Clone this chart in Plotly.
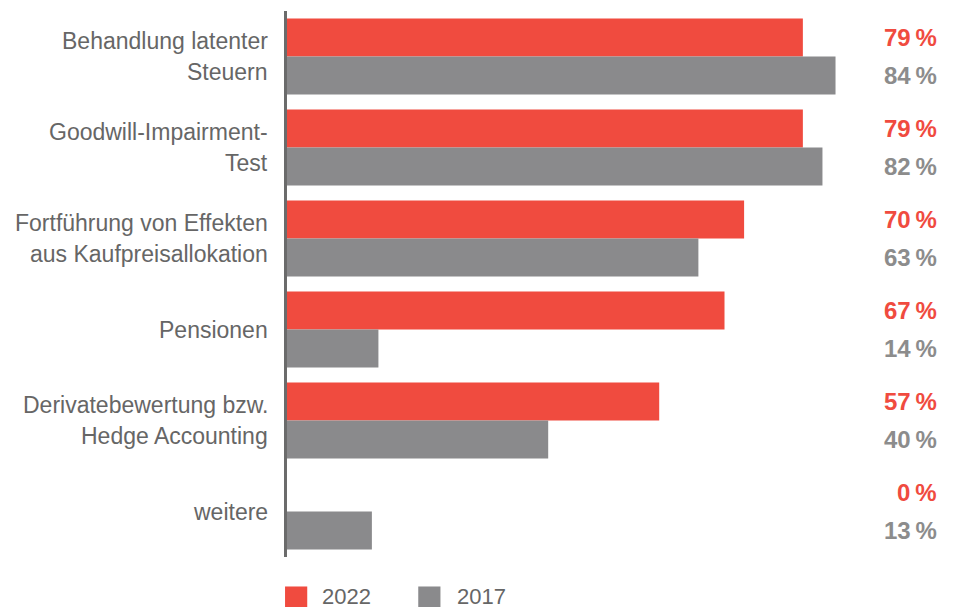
import plotly.graph_objects as go

# Survey shares per topic, 2022 vs. 2017
categories = [
    "Behandlung latenter<br>Steuern",
    "Goodwill-Impairment-<br>Test",
    "Fortführung von Effekten<br>aus Kaufpreisallokation",
    "Pensionen",
    "Derivatebewertung bzw.<br>Hedge Accounting",
    "weitere",
]
values_2022 = [79, 79, 70, 67, 57, 0]
values_2017 = [84, 82, 63, 14, 40, 13]
series_names = ["2022", "2017"]

RED = "#F04B3F"
GRAY = "#8A8A8C"
GRAY_TEXT = "#8C8C8C"
LABEL = "#666666"
FONT = "Liberation Sans, Arial, sans-serif"

fig = go.Figure()
fig.add_trace(go.Bar(y=categories, x=values_2022, orientation="h",
                     name=series_names[0], marker=dict(color=RED, line_width=0)))
fig.add_trace(go.Bar(y=categories, x=values_2017, orientation="h",
                     name=series_names[1], marker=dict(color=GRAY, line_width=0)))

annotations = []
# value column on the right
for cat, v22, v17 in zip(categories, values_2022, values_2017):
    for val, col, shift in ((v22, RED, 19), (v17, GRAY_TEXT, -19)):
        annotations.append(dict(
            x=1, xref="paper", y=cat, yref="y", xanchor="right", yanchor="middle",
            xshift=-1, yshift=shift, showarrow=False,
            text=f"<b>{val}\u2009%</b>",
            font=dict(family=FONT, size=24, color=col)))

# category labels, one line each so the line spacing can be set
for cat in categories:
    lines = cat.split("<br>")
    n = len(lines)
    for i, line in enumerate(lines):
        annotations.append(dict(
            x=0, xref="paper", y=cat, yref="y", xanchor="right", yanchor="middle",
            xshift=-17, yshift=(n - 1) * 15.5 - i * 31, showarrow=False,
            text=line, font=dict(family=FONT, size=23, color=LABEL)))

# legend entries below the plot
legend_items = [(series_names[0], RED, -0.003, 0.051), (series_names[1], GRAY, 0.201, 0.258)]
shapes = []
for name, col, x0, tx in legend_items:
    shapes.append(dict(type="rect", xref="paper", yref="paper",
                       x0=x0, x1=x0 + 0.034, y0=-0.054, y1=-0.094,
                       fillcolor=col, line_width=0))
    annotations.append(dict(x=tx, xref="paper", y=-0.072, yref="paper",
                            xanchor="left", yanchor="middle", showarrow=False,
                            text=name, font=dict(family=FONT, size=22, color=LABEL)))

fig.update_layout(
    width=955, height=607,
    margin=dict(l=287, r=15, t=11, b=50),
    paper_bgcolor="white", plot_bgcolor="white",
    barmode="group", bargap=0.165, bargroupgap=0,
    showlegend=False,
    xaxis=dict(range=[0, 100], visible=False, fixedrange=True),
    yaxis=dict(autorange="reversed", showticklabels=False, ticks="",
               showgrid=False, zeroline=False,
               showline=True, linecolor="#6B6B6B", linewidth=2.5),
    annotations=annotations, shapes=shapes,
    font=dict(family=FONT),
)

fig.write_html("out.html")
